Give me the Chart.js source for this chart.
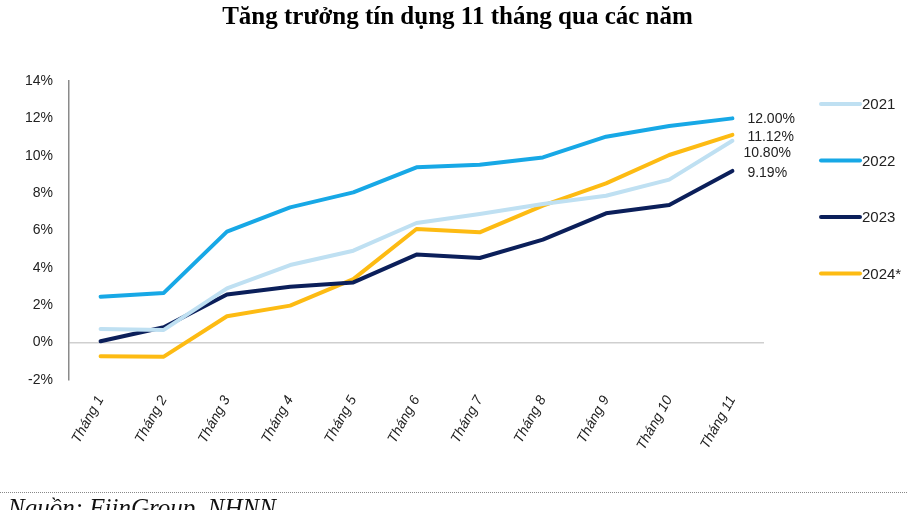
<!DOCTYPE html>
<html>
<head>
<meta charset="utf-8">
<script src="https://cdn.jsdelivr.net/npm/chart.js@4.4.1/dist/chart.umd.min.js"></script>
<style>
  body { margin: 0; background: #fff; }
  #wrap { position: relative; width: 907px; height: 510px; overflow: hidden; }
  #title { position: absolute; top: 2px; left: 4px; width: 907px; text-align: center;
    font-family: "Liberation Serif", serif; font-weight: bold; font-size: 25px; color: #000; }
  #rule { position: absolute; top: 492px; left: 0; width: 907px; border-top: 1px dotted #888; }
  #src { position: absolute; top: 494px; left: 8px; font-family: "Liberation Serif", serif;
    font-style: italic; font-size: 25px; color: #111; }
</style>
</head>
<body>
<div id="wrap">
  <canvas id="chartCredit" width="907" height="510"></canvas>
  <div id="title">Tăng trưởng tín dụng 11 tháng qua các năm</div>
  <div id="rule"></div>
  <div id="src">Nguồn: FiinGroup, NHNN</div>
</div>
<script>
const months = ['Tháng 1','Tháng 2','Tháng 3','Tháng 4','Tháng 5','Tháng 6','Tháng 7','Tháng 8','Tháng 9','Tháng 10','Tháng 11'];
const yearNames = ['2021', '2022', '2023', '2024*'];
const data2021 = [0.73, 0.68, 2.9, 4.15, 4.92, 6.4, 6.88, 7.42, 7.86, 8.72, 10.80];
const data2022 = [2.46, 2.66, 5.94, 7.24, 8.04, 9.38, 9.52, 9.91, 11.02, 11.59, 12.00];
const data2023 = [0.07, 0.82, 2.57, 2.99, 3.22, 4.71, 4.53, 5.51, 6.92, 7.36, 9.19];
const data2024 = [-0.73, -0.75, 1.41, 1.98, 3.4, 6.08, 5.9, 7.33, 8.52, 10.04, 11.12];
const yTicks = [-2, 0, 2, 4, 6, 8, 10, 12, 14];

const colors = ['#bfe0f2', '#17a8e6', '#0b1f5a', '#fdbb13'];
const allSeries = [data2021, data2022, data2023, data2024];

// label offsets for the end-of-line values
const endOffsets = [[11, 12], [15, 1], [15, 2], [15, 2]];

const endLabels = {
  id: 'endLabels',
  afterDatasetsDraw(chart) {
    const ctx = chart.ctx;
    ctx.save();
    ctx.font = '14px "Liberation Sans", Arial, sans-serif';
    ctx.fillStyle = '#222';
    ctx.textBaseline = 'middle';
    ctx.textAlign = 'left';
    chart.data.datasets.forEach((ds, i) => {
      const meta = chart.getDatasetMeta(i);
      const pt = meta.data[meta.data.length - 1];
      const v = ds.data[ds.data.length - 1];
      ctx.fillText(v.toFixed(2) + '%', pt.x + endOffsets[i][0], pt.y + endOffsets[i][1]);
    });
    // legend
    ctx.font = '15px "Liberation Sans", Arial, sans-serif';
    chart.data.datasets.forEach((ds, i) => {
      const y = 104 + i * 56.5;
      ctx.strokeStyle = ds.borderColor;
      ctx.lineWidth = 4;
      ctx.lineCap = 'round';
      ctx.beginPath();
      ctx.moveTo(821, y);
      ctx.lineTo(860, y);
      ctx.stroke();
      ctx.fillText(ds.label, 862, y + 1);
    });
    ctx.restore();
  }
};

const ctx = document.getElementById('chartCredit').getContext('2d');
new Chart(ctx, {
  type: 'line',
  data: {
    labels: months,
    datasets: allSeries.map((d, i) => ({
      label: yearNames[i],
      data: d,
      borderColor: colors[i],
      backgroundColor: colors[i],
      borderWidth: 4,
      pointRadius: 0,
      tension: 0,
      borderCapStyle: 'round',
      borderJoinStyle: 'round'
    }))
  },
  options: {
    responsive: false,
    animation: false,
    layout: { padding: { top: 81, right: 143, bottom: 50, left: 0 } },
    plugins: { legend: { display: false }, tooltip: { enabled: false } },
    scales: {
      x: {
        offset: true,
        grid: { display: false },
        border: { display: false },
        ticks: {
          minRotation: 61, maxRotation: 61, padding: 5,
          color: '#222',
          font: { family: '"Liberation Sans", Arial, sans-serif', size: 14, style: 'italic' }
        },
        afterFit(scale) { scale.height = 80; }
      },
      y: {
        min: -2, max: 14,
        afterBuildTicks(scale) { scale.ticks = yTicks.map(v => ({ value: v })); },
        grid: {
          drawTicks: false,
          color: c => (c.tick && c.tick.value === 0) ? '#cfcfcf' : 'rgba(0,0,0,0)',
          lineWidth: 1.5
        },
        border: { display: true, color: '#8a8a8a', width: 1.5 },
        ticks: {
          padding: 16,
          color: '#222',
          font: { family: '"Liberation Sans", Arial, sans-serif', size: 14 },
          callback: v => v + '%'
        },
        afterFit(scale) { scale.width = 69; }
      }
    }
  },
  plugins: [endLabels]
});
</script>
</body>
</html>
